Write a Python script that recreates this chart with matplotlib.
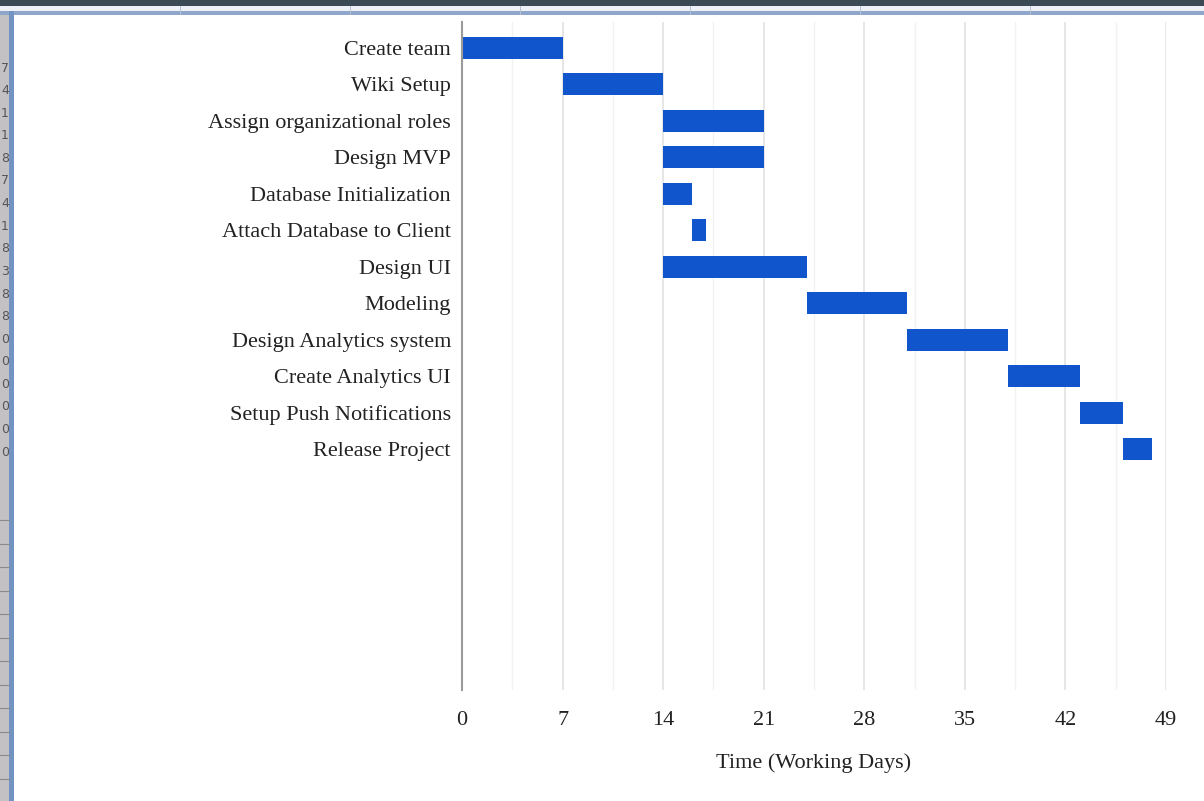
import numpy as np
import matplotlib
matplotlib.use('Agg')
import matplotlib.pyplot as plt
from matplotlib.patches import Rectangle

# project schedule, in working days
tasks = ['Create team', 'Wiki Setup', 'Assign organizational roles', 'Design MVP',
         'Database Initialization', 'Attach Database to Client', 'Design UI',
         'Modeling', 'Design Analytics system', 'Create Analytics UI',
         'Setup Push Notifications', 'Release Project']
start = [0, 7, 14, 14, 14, 16, 14, 24, 31, 38, 43, 46]
duration = [7, 7, 7, 7, 2, 1, 10, 7, 7, 5, 3, 2]

xticks = [0, 7, 14, 21, 28, 35, 42, 49]

# row numbers peeking in from the sheet on the left
sheet_digits = ['7', '4', '1', '1', '8', '7', '4', '1', '8', '3', '8', '8',
                '0', '0', '0', '0', '0', '0']

W, H = 1204, 801
plt.rcParams['font.family'] = ['Liberation Serif', 'DejaVu Serif']

fig = plt.figure(figsize=(W / 100, H / 100), dpi=100)
fig.patch.set_facecolor('white')


def box(x, y, w, h, color, z=-5):
    # rectangle in pixel units, measured from the top-left corner
    fig.add_artist(Rectangle((x / W, 1 - (y + h) / H), w / W, h / H,
                             transform=fig.transFigure, facecolor=color,
                             edgecolor='none', zorder=z))


# spreadsheet window frame
box(0, 0, 9, H, '#c3c1c4', -6)
box(0, 0, W, 6, '#3b4954')
box(0, 6, W, 5, '#eef0f8')
box(0, 11, W, 4, '#8ea6c9')
box(9, 11, 5, H, '#7393c2')
for xs in [180, 350, 520, 690, 860, 1030]:
    box(xs, 6, 1, 9, '#b8bfd0', -4)
for i, d in enumerate(sheet_digits):
    fig.text(9 / W, 1 - (68 + 22.6 * i) / H, d, ha='right', va='center',
             fontsize=9, color='#555555', family='DejaVu Sans')
for i in range(12):
    yy = 1 - (520 + 23.5 * i) / H
    fig.add_artist(plt.Line2D([0, 9 / W], [yy, yy], transform=fig.transFigure,
                              color='#8a8a8a', lw=0.8))

ax = fig.add_axes([462 / W, 1 - 690 / H, (1166 - 462) / W, (690 - 22) / H])

y = np.arange(len(tasks))
ax.barh(y, duration, left=start, height=0.6, color='#1155cc', zorder=3)

ax.set_xlim(0, 49)
ax.set_ylim(17.59, -0.71)
ax.set_xticks(xticks)
ax.set_xticks(np.arange(3.5, 49, 7), minor=True)
ax.set_yticks(y)
ax.set_yticklabels(tasks)

ax.grid(axis='x', which='major', color='#e2e2e2', lw=1.2, zorder=0)
ax.grid(axis='x', which='minor', color='#f2f2f2', lw=1.0, zorder=0)

for s in ['top', 'right', 'bottom']:
    ax.spines[s].set_visible(False)
ax.spines['left'].set_color('#9a9a9a')
ax.spines['left'].set_linewidth(1.5)
ax.spines['left'].set_zorder(4)

ax.tick_params(axis='both', which='both', length=0, colors='#222222',
               labelsize=16)
ax.tick_params(axis='x', pad=15)
ax.tick_params(axis='y', pad=8)

ax.set_xlabel('Time (Working Days)', fontsize=16, color='#222222',
              labelpad=17)

fig.savefig('out.png', dpi=100)
